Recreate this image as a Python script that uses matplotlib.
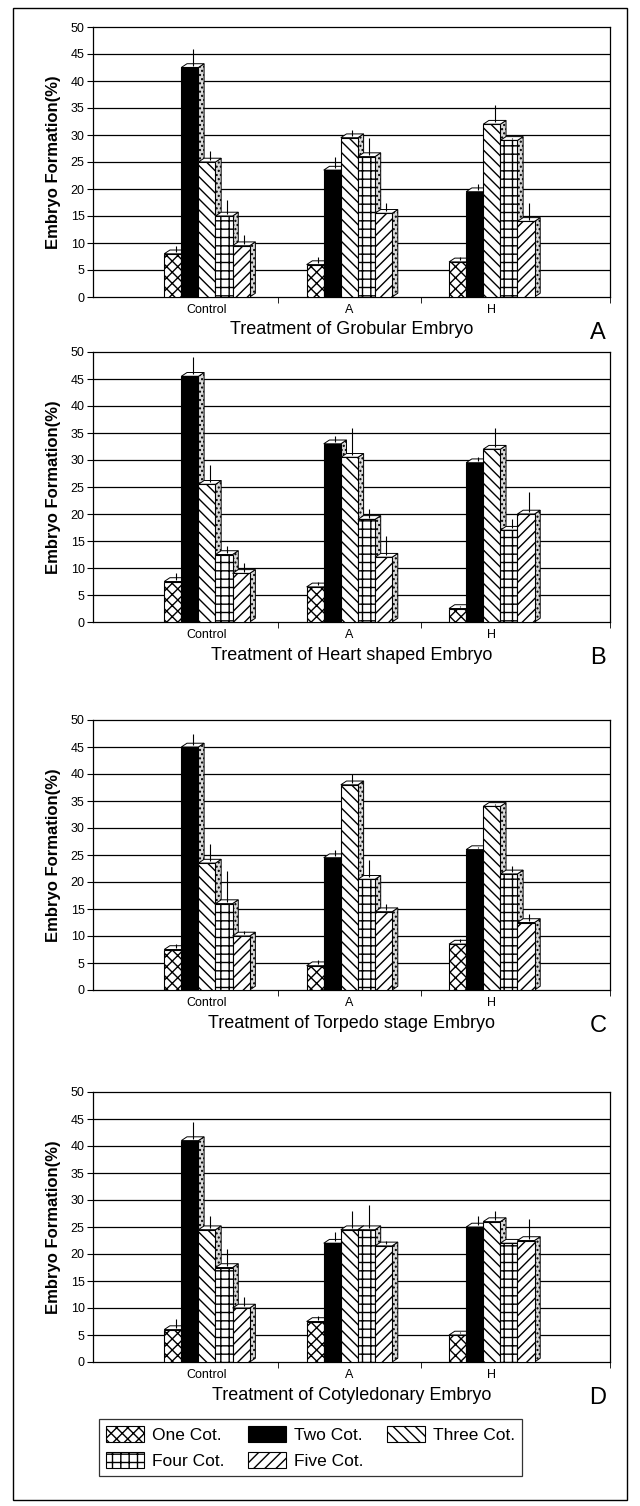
import matplotlib
matplotlib.use("Agg")
import matplotlib.pyplot as plt
from matplotlib.patches import Polygon, Rectangle, Patch
import numpy as np

plt.rcParams['font.family'] = ['Liberation Sans', 'DejaVu Sans']
plt.rcParams['hatch.linewidth'] = 1.0

categories = ['Control', 'A', 'H']
series = ['One Cot.', 'Two Cot.', 'Three Cot.', 'Four Cot.', 'Five Cot.']

# values per panel: rows = series, columns = categories
globular = [[8, 6, 6.5], [42.5, 23.5, 19.5], [25, 29.5, 32], [15, 26, 29], [9.5, 15.5, 14]]
globular_err = [[9.5, 7.5, 7.5], [46, 26, 21], [27, 31, 35.5], [18, 29.5, 29.5], [11.5, 17.5, 17.5]]

heart = [[7.5, 6.5, 2.5], [45.5, 33, 29.5], [25.5, 30.5, 32], [12.5, 19, 17], [9, 12, 20]]
heart_err = [[9, 7.5, 3], [49, 34.5, 30.5], [29, 36, 36], [14, 21, 19], [11, 16, 24]]

torpedo = [[7.5, 4.5, 8.5], [45, 24.5, 26], [23.5, 38, 34], [16, 20.5, 21.5], [10, 14.5, 12.5]]
torpedo_err = [[8.5, 5.5, 9.5], [47.5, 26, 26.5], [27, 40, 34.5], [22, 24, 23], [11, 16, 14]]

cotyledonary = [[6, 7.5, 5], [41, 22, 25], [24.5, 24.5, 26], [17.5, 24.5, 22], [10, 21.5, 22.5]]
cotyledonary_err = [[8, 8.5, 5.5], [44.5, 24, 27], [27, 28, 28], [21, 29, 22.5], [12, 22.5, 26.5]]

panels = [
    ('Treatment of Grobular Embryo', 'A', globular, globular_err),
    ('Treatment of Heart shaped Embryo', 'B', heart, heart_err),
    ('Treatment of Torpedo stage Embryo', 'C', torpedo, torpedo_err),
    ('Treatment of Cotyledonary Embryo', 'D', cotyledonary, cotyledonary_err),
]

hatches = ['xxx', None, '\\\\\\', '++', '///']
faces = ['white', 'black', 'white', 'white', 'white']

W = 640
H = 1506
fig = plt.figure(figsize=(W / 100, H / 100), dpi=100)

# outer frame
fig.patches.append(Rectangle((13 / W, 1 - 1500 / H), 614 / W, 1492 / H,
                             transform=fig.transFigure, fill=False, lw=1.0, ec='black'))

tops = [27, 352, 720, 1092]
ph = 270

bw = 0.12
dx = 0.04
dy = 0.7
xc = np.arange(len(categories))

for (xlabel, letter, vals, errs), top in zip(panels, tops):
    ax = fig.add_axes([93 / W, 1 - (top + ph) / H, 517 / W, ph / H])
    ax.set_xlim(-0.8, 2.83)
    ax.set_ylim(0, 50)
    ax.set_yticks(np.arange(0, 51, 5))
    for yv in range(5, 50, 5):
        ax.axhline(yv, color='black', lw=0.9, zorder=0)
    z = 2
    for i in range(len(series)):
        pos = xc + (i - 2) * bw
        for x0, v, e in zip(pos, vals[i], errs[i]):
            side = Polygon([[x0 + bw / 2, 0], [x0 + bw / 2 + dx, dy], [x0 + bw / 2 + dx, v + dy], [x0 + bw / 2, v]],
                           closed=True, fc='#d9d9d9', ec='black', lw=0.7, hatch='....', zorder=z)
            topf = Polygon([[x0 - bw / 2, v], [x0 - bw / 2 + dx, v + dy], [x0 + bw / 2 + dx, v + dy], [x0 + bw / 2, v]],
                           closed=True, fc='white', ec='black', lw=0.7, zorder=z)
            ax.add_patch(side)
            ax.add_patch(topf)
            ax.vlines(x0 + dx / 2, v + dy / 2, e, color='black', lw=0.8, zorder=z)
        ax.bar(pos, vals[i], width=bw, color=faces[i], edgecolor='black', hatch=hatches[i],
               lw=0.8, zorder=z + 1)
        z += 2
    ax.set_xticks(xc)
    ax.set_xticklabels(categories, fontsize=9)
    ax.set_xticks([0.5, 1.5, 2.83], minor=True)
    ax.tick_params(axis='x', which='major', length=0, pad=5)
    ax.tick_params(axis='x', which='minor', length=4, direction='out')
    ax.tick_params(axis='y', labelsize=9, length=4, direction='out', pad=2)
    for s in ax.spines.values():
        s.set_linewidth(0.9)
    ax.set_xlabel(xlabel, fontsize=13, labelpad=4)
    ax.set_ylabel('Embryo Formation(%)', fontsize=12, fontweight='bold', labelpad=7)
    fig.text(598 / W, 1 - (top + ph + 36) / H, letter, fontsize=17, ha='center', va='center')

# matplotlib fills legend columns first; reorder so rows read One, Two, Three / Four, Five
order = [0, 3, 1, 4, 2]
handles = [Patch(fc=faces[i], ec='black', hatch=hatches[i], lw=0.8) for i in order]
labels = [series[i] for i in order]
leg = fig.legend(handles, labels, ncol=3, loc='upper left',
                 bbox_to_anchor=(90 / W, 1 - 1410 / H), fontsize=12.5, frameon=True,
                 fancybox=False, edgecolor='black', handlelength=2.2, handleheight=1.1,
                 columnspacing=1.3, handletextpad=0.5, borderpad=0.4, labelspacing=0.5)
leg.get_frame().set_linewidth(0.9)

fig.savefig('out.png', dpi=100)
